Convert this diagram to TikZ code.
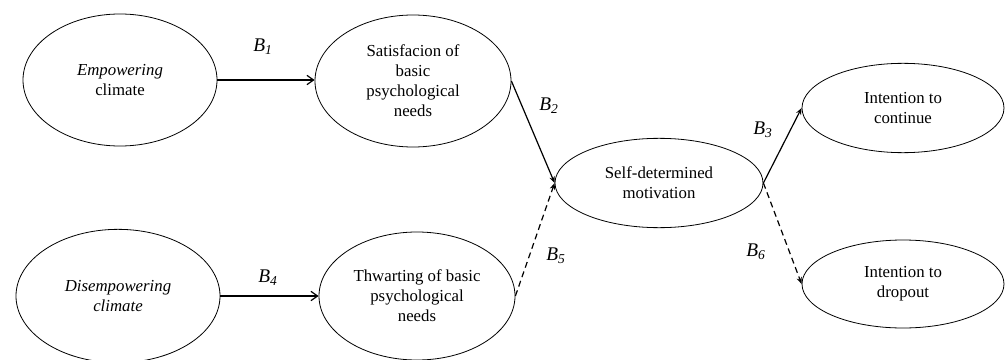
\documentclass[tikz,border=0pt]{standalone}
\usepackage{fontspec}
\setmainfont{Liberation Serif}
\usetikzlibrary{shapes.geometric,arrows.meta}
\begin{document}
\begin{tikzpicture}[x=0.75pt,y=-0.75pt,
  oval/.style={ellipse,draw,line width=0.6pt,inner sep=0pt,align=center,font=\fontsize{12.6}{15}\selectfont},
  conn/.style={line width=0.9pt},
  openarr/.style={conn,-{Straight Barb[length=5pt,width=7pt]}},
  fillarr/.style={conn,-{Stealth[length=5pt,width=4pt]}},
  dasharr/.style={fillarr,dash pattern=on 4.5pt off 3pt},
  blab/.style={font=\fontsize{14.5}{16}\selectfont}]
\useasboundingbox (0,0) rectangle (1006,360);
\node[oval,minimum width=145.5pt,minimum height=99pt] (emp) at (120,80) {\textit{Empowering}\\climate};
\node[oval,minimum width=147pt,minimum height=99pt] (sat) at (413,81) {Satisfacion of\\basic\\psychological\\needs};
\node[oval,minimum width=153pt,minimum height=100pt] (dis) at (118,296) {\textit{Disempowering}\\\textit{climate}\hspace{1.2em}};
\node[oval,minimum width=147pt,minimum height=96pt] (thw) at (417,296) {Thwarting of basic\\psychological\\needs};
\node[oval,minimum width=156pt,minimum height=67pt] (sdm) at (659,183) {Self-determined\\motivation};
\node[oval,minimum width=151.5pt,minimum height=67pt] (cont) at (903,108) {Intention to\\continue};
\node[oval,minimum width=151.5pt,minimum height=66pt] (drop) at (903,284) {Intention to\\dropout};
\draw[openarr] (emp.east) -- (sat.west |- emp.east);
\draw[openarr] (dis.east) -- (thw.west |- dis.east);
\draw[fillarr] (sat.east) -- (sdm.west);
\draw[dasharr] (thw.east) -- (sdm.west);
\draw[fillarr] (sdm.east) -- (cont.west);
\draw[dasharr] (sdm.east) -- (drop.west);
\node[blab] (b1) at (263,47) {\textit{B}\textsubscript{\textit{1}}};
\node[blab] (b2) at (549,106) {\textit{B}\textsubscript{\textit{2}}};
\node[blab] (b3) at (763,130) {\textit{B}\textsubscript{\textit{3}}};
\node[blab] (b4) at (268,278) {\textit{B}\textsubscript{\textit{4}}};
\node[blab] (b5) at (556,256) {\textit{B}\textsubscript{\textit{5}}};
\node[blab] (b6) at (756,252) {\textit{B}\textsubscript{\textit{6}}};
\end{tikzpicture}
\end{document}
